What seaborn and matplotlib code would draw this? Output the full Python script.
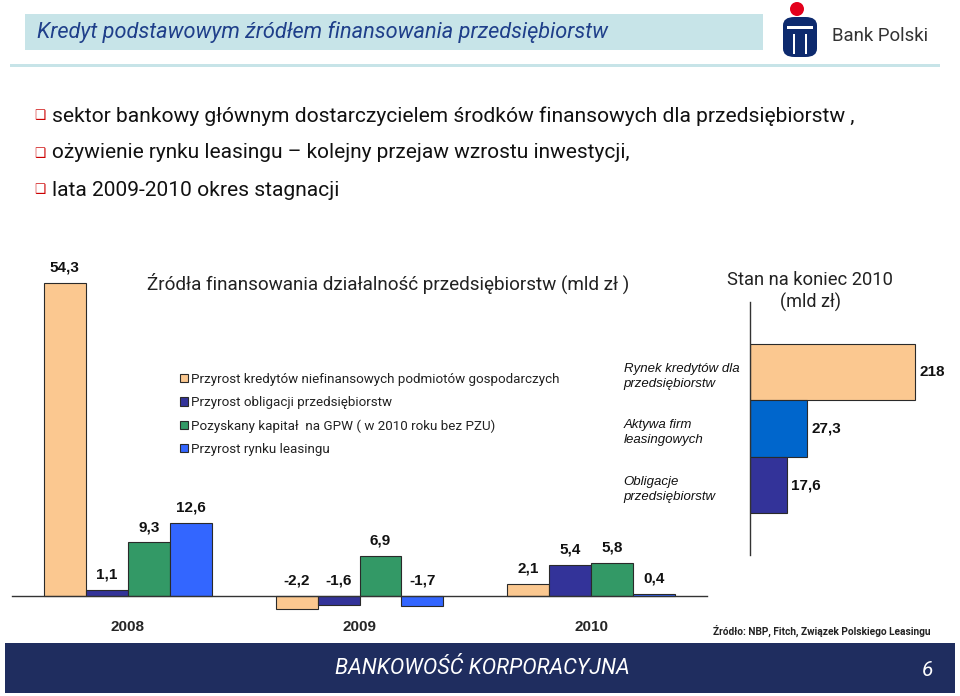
import numpy as np
import pandas as pd
import seaborn as sns
import matplotlib.pyplot as plt
from matplotlib.patches import Rectangle, Patch, FancyBboxPatch, Ellipse

# data
years = ["2008", "2009", "2010"]
series = ["Przyrost kredytów niefinansowych podmiotów gospodarczych",
          "Przyrost obligacji przedsiębiorstw",
          "Pozyskany kapitał  na GPW ( w 2010 roku bez PZU)",
          "Przyrost rynku leasingu"]
kredyty = [54.3, -2.2, 2.1]
obligacje = [1.1, -1.6, 5.4]
gpw = [9.3, 6.9, 5.8]
leasing = [12.6, -1.7, 0.4]

stan_labels = ["Rynek kredytów dla\nprzedsiębiorstw",
               "Aktywa firm\nleasingowych",
               "Obligacje\nprzedsiębiorstw"]
stan_values = [218, 27.3, 17.6]

bullets = ["sektor bankowy głównym dostarczycielem środków finansowych dla przedsiębiorstw ,",
           "ożywienie rynku leasingu – kolejny przejaw wzrostu inwestycji,",
           "lata 2009-2010 okres stagnacji"]

series_colors = ["#fbc890", "#333399", "#339966", "#3366ff"]
stan_colors = ["#fbc890", "#0066cc", "#333399"]
navy = "#1f2d5f"
edge = "#2a2a2a"

sns.set_style("white")
SLIDE = ["Roboto", "DejaVu Sans"]   # stand-in for the narrow PKO font
ARIAL = ["Liberation Sans", "DejaVu Sans"]
plt.rcParams["font.family"] = ARIAL

W, H = 960, 696
fig = plt.figure(figsize=(9.6, 6.96), dpi=100)
renderer = fig.canvas.get_renderer()


def fbox(x0, y0, x1, y1):
    return [x0 / W, 1 - y1 / H, (x1 - x0) / W, (y1 - y0) / H]


def ftext(x, y, s, width=None, **kw):
    t = fig.text(x / W, 1 - y / H, s, **kw)
    if width:
        # shrink/grow the font so the line has the slide's width
        w = t.get_window_extent(renderer).width
        t.set_fontsize(t.get_fontsize() * width / w)
    return t


def frect(x0, y0, x1, y1, **kw):
    fig.add_artist(Rectangle((x0 / W, 1 - y1 / H), (x1 - x0) / W, (y1 - y0) / H,
                             transform=fig.transFigure, **kw))


# header
frect(25, 14, 763, 50, color="#c7e4e8", lw=0)
ftext(37, 32, "Kredyt podstawowym źródłem finansowania przedsiębiorstw", width=573,
      family=SLIDE, style="italic", fontsize=14, color="#1f3f8a", va="center")
frect(10, 64, 940, 67, color="#c7e4e8", lw=0)

# logo
fig.add_artist(Ellipse((797 / W, 1 - 9 / H), 14 / W, 14 / H, transform=fig.transFigure,
                       color="#e3001b", lw=0))
fig.add_artist(FancyBboxPatch((783 / W, 1 - 57 / H), 34 / W, 40 / H,
                              boxstyle="round,pad=0,rounding_size=0.012",
                              transform=fig.transFigure, color="#0d2a6e", lw=0))
frect(787, 26, 813, 29, color="white", lw=0)
frect(793, 34, 795, 54, color="white", lw=0)
frect(805, 34, 807, 54, color="white", lw=0)
ftext(832, 36, "Bank Polski", width=96, family=SLIDE, fontsize=13,
      color="#333333", va="center")

# bullets
bullet_widths = [801, 580, 288]
for i, (b, bw) in enumerate(zip(bullets, bullet_widths)):
    y = 116 + i * 37
    ftext(34, y, "❑", family="DejaVu Sans", fontsize=9, color="#cc0000", va="center")
    ftext(52, y, b, width=bw, family=SLIDE, fontsize=15, color="#111111", va="center")

# ---- grouped bar chart ----
df = pd.DataFrame({"rok": np.repeat(years, len(series)),
                   "seria": series * len(years),
                   "wartosc": np.array([kredyty, obligacje, gpw, leasing]).T.ravel()})

px_per_unit = 5.77
ax = fig.add_axes(fbox(12, 270, 707, 640))
sns.barplot(data=df, x="rok", y="wartosc", hue="seria", hue_order=series,
            palette=series_colors, saturation=1, width=0.725, edgecolor=edge,
            linewidth=0.8, legend=False, ax=ax)
ax.set_xlim(-0.5, 2.5)
ax.set_ylim(-(640 - 596) / px_per_unit, (596 - 270) / px_per_unit)
for s in ["left", "right", "top"]:
    ax.spines[s].set_visible(False)
ax.spines["bottom"].set_position(("data", 0))
ax.spines["bottom"].set_color("#333333")
ax.spines["bottom"].set_linewidth(1.0)
ax.set_yticks([])
ax.set_xticks([-0.5, 0.5, 1.5, 2.5])
ax.set_xticklabels([])
ax.set_xticks([0, 1, 2], minor=True)
ax.set_xticklabels(years, minor=True, fontsize=11, fontweight="bold")
ax.tick_params(axis="x", which="major", length=6, width=1, color="#333333", direction="out")
ax.tick_params(axis="x", which="minor", length=0, pad=17)
ax.set_xlabel("")
ax.set_ylabel("")

for cont in ax.containers:
    for bar in cont:
        h = bar.get_height()
        ax.annotate(f"{h:.1f}".replace(".", ","),
                    (bar.get_x() + bar.get_width() / 2, max(h, 0)),
                    xytext=(0, 6), textcoords="offset points", ha="center", va="bottom",
                    fontsize=11, fontweight="bold", color="#111111")

# legend font sized so the longest label spans the same width as on the slide
probe = fig.text(0, 0, series[0], family=SLIDE, fontsize=10)
leg_size = 10 * 370 / probe.get_window_extent(renderer).width
probe.remove()
handles = [Patch(facecolor=c, edgecolor=edge, lw=0.8) for c in series_colors]
ax.legend(handles, series, loc="upper left", bbox_to_anchor=(168 / W, 1 - 361 / H),
          bbox_transform=fig.transFigure, frameon=False, handlelength=0.56,
          handleheight=0.56, handletextpad=0.25, labelspacing=0.75,
          prop={"family": SLIDE, "size": leg_size}, labelcolor="#222222")

ftext(147, 283, "Źródła finansowania działalność przedsiębiorstw (mld zł )", width=488,
      family=SLIDE, fontsize=14, color="#222222", va="center")

# ---- stan na koniec 2010 ----
hx_per_unit = 57 / 27.3
cap = (915 - 750) / hx_per_unit  # 218 is drawn broken, like in the source
sdf = pd.DataFrame({"grp": ["2010"] * 3, "kat": stan_labels,
                    "wart": np.minimum(stan_values, cap)})
ax2 = fig.add_axes(fbox(750, 302, 750 + 100 * hx_per_unit, 555))
sns.barplot(data=sdf, x="wart", y="grp", hue="kat", hue_order=stan_labels,
            palette=stan_colors, saturation=1, orient="h", width=0.67,
            edgecolor=edge, linewidth=0.8, legend=False, ax=ax2)
ax2.set_xlim(0, 100)
ax2.set_ylim(0.5, -0.5)
for s in ["right", "top", "bottom"]:
    ax2.spines[s].set_visible(False)
ax2.spines["left"].set_color("#333333")
ax2.spines["left"].set_linewidth(1.0)
ax2.set_xticks([])
ax2.set_yticks([-0.5, 0.5])
ax2.set_yticklabels([])
ax2.tick_params(axis="y", length=6, width=1, color="#333333", direction="out")
ax2.set_xlabel("")
ax2.set_ylabel("")

for cont, val, lab in zip(ax2.containers, stan_values, stan_labels):
    bar = cont[0]
    yc = bar.get_y() + bar.get_height() / 2
    ax2.annotate(f"{val:g}".replace(".", ","), (bar.get_width(), yc),
                 xytext=(3, 0), textcoords="offset points", ha="left", va="center",
                 fontsize=11, fontweight="bold", color="#111111")
    ax2.annotate(lab, (0, yc), xytext=(-91, -3), textcoords="offset points",
                 ha="left", va="center", fontsize=9.5, style="italic",
                 color="#111111", linespacing=1.3)

ftext(810, 280, "Stan na koniec 2010", width=166, family=SLIDE, fontsize=13,
      color="#222222", ha="center", va="center")
ftext(810, 302, "(mld zł)", width=61, family=SLIDE, fontsize=13.5,
      color="#222222", ha="center", va="center")

# footer
ftext(713, 631, "Źródło: NBP, Fitch, Związek Polskiego Leasingu", width=217,
      family=SLIDE, fontsize=7.5, fontweight="bold", color="#222222", va="center")
frect(5, 643, 955, 693, color=navy, lw=0)
ftext(335, 668, "BANKOWOŚĆ KORPORACYJNA", width=295, family=SLIDE, style="italic",
      fontsize=15, color="white", va="center")
ftext(922, 670, "6", family=SLIDE, style="italic", fontsize=15, color="white",
      va="center")

fig.savefig("out.png", dpi=100)
